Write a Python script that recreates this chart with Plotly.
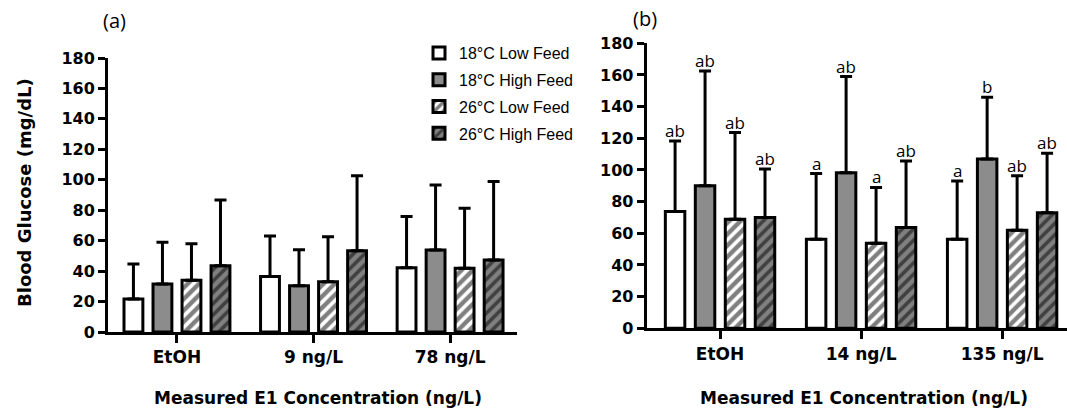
import plotly.graph_objects as go

# ---------------- data ----------------
series = ["18°C Low Feed", "18°C High Feed", "26°C Low Feed", "26°C High Feed"]

groups_a = ["EtOH", "9 ng/L", "78 ng/L"]
groups_b = ["EtOH", "14 ng/L", "135 ng/L"]

# panel (a) means and SD
a_low18 = [21.7, 36.4, 42.2]
a_high18 = [31.5, 30.4, 53.9]
a_low26 = [34.0, 33.0, 41.8]
a_high26 = [43.6, 53.4, 47.3]
a_low18_sd = [23.0, 26.6, 33.6]
a_high18_sd = [27.5, 23.6, 42.7]
a_low26_sd = [24.0, 29.6, 39.5]
a_high26_sd = [43.1, 49.3, 51.5]

# panel (b) means and SD
b_low18 = [73.7, 56.2, 56.2]
b_high18 = [90.0, 98.3, 107.0]
b_low26 = [68.8, 53.7, 62.0]
b_high26 = [70.0, 63.6, 73.0]
b_low18_sd = [44.6, 41.5, 36.8]
b_high18_sd = [72.5, 60.7, 39.0]
b_low26_sd = [54.8, 35.3, 34.4]
b_high26_sd = [30.6, 42.1, 37.5]

# significance letters (panel b)
b_low18_lbl = ["ab", "a", "a"]
b_high18_lbl = ["ab", "ab", "b"]
b_low26_lbl = ["ab", "a", "ab"]
b_high26_lbl = ["ab", "ab", "ab"]

y_ticks = [0, 20, 40, 60, 80, 100, 120, 140, 160, 180]

# ---------------- styles ----------------
styles = [
    dict(color="white", pattern=None),
    dict(color="#8c8c8c", pattern=None),
    dict(color="white", pattern=dict(shape="/", fgcolor="black", bgcolor="white", size=8, solidity=0.55)),
    dict(color="#808080", pattern=dict(shape="/", fgcolor="black", bgcolor="#808080", size=8, solidity=0.45)),
]
BARGAP = 0.15
BARGROUPGAP = 0.35

a_means = [a_low18, a_high18, a_low26, a_high26]
a_sds = [a_low18_sd, a_high18_sd, a_low26_sd, a_high26_sd]
b_means = [b_low18, b_high18, b_low26, b_high26]
b_sds = [b_low18_sd, b_high18_sd, b_low26_sd, b_high26_sd]
b_lbls = [b_low18_lbl, b_high18_lbl, b_low26_lbl, b_high26_lbl]

fig = go.Figure()


def add_bars(groups, means, sds, xa, ya, showlegend):
    for k, name in enumerate(series):
        st = styles[k]
        marker = dict(color=st["color"], line=dict(color="black", width=3))
        if st["pattern"] is not None:
            marker["pattern"] = st["pattern"]
        fig.add_trace(go.Bar(
            x=groups, y=means[k], name=name, marker=marker,
            error_y=dict(type="data", array=sds[k], symmetric=False,
                         arrayminus=[0] * len(sds[k]),
                         color="black", thickness=3, width=6),
            xaxis=xa, yaxis=ya, showlegend=showlegend,
            legendgroup=name, offsetgroup=str(k),
        ))


add_bars(groups_a, a_means, a_sds, "x", "y", True)
add_bars(groups_b, b_means, b_sds, "x2", "y2", False)

# letters above error bars in panel (b)
slot = (1 - BARGAP) / len(series)
annotations = []
for k in range(len(series)):
    off = (k - (len(series) - 1) / 2) * slot
    for i in range(len(groups_b)):
        annotations.append(dict(
            x=i + off, y=b_means[k][i] + b_sds[k][i], xref="x2", yref="y2",
            text=b_lbls[k][i], showarrow=False, xanchor="center", yanchor="bottom", yshift=-3,
            font=dict(family="Open Sans", size=17, color="black"),
        ))

bold = dict(family="DejaVu Sans", color="black", weight="bold")
annotations += [
    dict(x=114 / 1067, y=1 - 21 / 412, xref="paper", yref="paper", text="(a)",
         xanchor="center", yanchor="middle",
         showarrow=False, font=dict(family="Open Sans", size=20, color="black")),
    dict(x=645 / 1067, y=1 - 19 / 412, xref="paper", yref="paper", text="(b)",
         xanchor="center", yanchor="middle",
         showarrow=False, font=dict(family="Open Sans", size=20, color="black")),
    dict(x=318 / 1067, y=1 - 398 / 412, xref="paper", yref="paper",
         text="Measured E1 Concentration (ng/L)", showarrow=False,
         xanchor="center", yanchor="middle",
         font=dict(size=17, **bold)),
    dict(x=864 / 1067, y=1 - 398 / 412, xref="paper", yref="paper",
         text="Measured E1 Concentration (ng/L)", showarrow=False,
         xanchor="center", yanchor="middle",
         font=dict(size=17, **bold)),
    dict(x=24 / 1067, y=1 - 193 / 412, xref="paper", yref="paper",
         text="Blood Glucose (mg/dL)", showarrow=False, textangle=-90,
         xanchor="center", yanchor="middle",
         font=dict(size=18, **bold)),
]

xcommon = dict(type="category", showline=True, linecolor="black", linewidth=3,
               ticks="outside", ticklen=8, tickwidth=3, tickcolor="black",
               showgrid=False, zeroline=False, automargin=False,
               tickfont=dict(size=17, **bold))
ycommon = dict(range=[0, 180], tickvals=y_ticks, showline=True, linecolor="black",
               linewidth=3, ticks="outside", ticklen=7, tickwidth=3, tickcolor="black",
               showgrid=False, zeroline=False, automargin=False,
               tickfont=dict(size=16, **bold))

fig.update_layout(
    width=1067, height=412,
    margin=dict(l=0, r=0, t=0, b=0, autoexpand=False),
    paper_bgcolor="white", plot_bgcolor="white",
    barmode="group", bargap=BARGAP, bargroupgap=BARGROUPGAP,
    xaxis=dict(domain=[108 / 1067, 517 / 1067], range=[-0.505, 2.49], anchor="y", **xcommon),
    yaxis=dict(domain=[80 / 412, 354 / 412], anchor="x", **ycommon),
    xaxis2=dict(domain=[646.7 / 1067, 1.0], range=[-0.52, 2.46], anchor="y2", **xcommon),
    yaxis2=dict(domain=[83.7 / 412, 368.7 / 412], anchor="x2", **ycommon),
    legend=dict(x=419 / 1067, y=1 - 36 / 412, xanchor="left", yanchor="top",
                bgcolor="rgba(0,0,0,0)", tracegroupgap=3,
                font=dict(family="Liberation Sans", size=16, color="black")),
    annotations=annotations,
)

fig.write_html("out.html", config={"displayModeBar": False},
               post_script="document.body.style.margin='0';")
